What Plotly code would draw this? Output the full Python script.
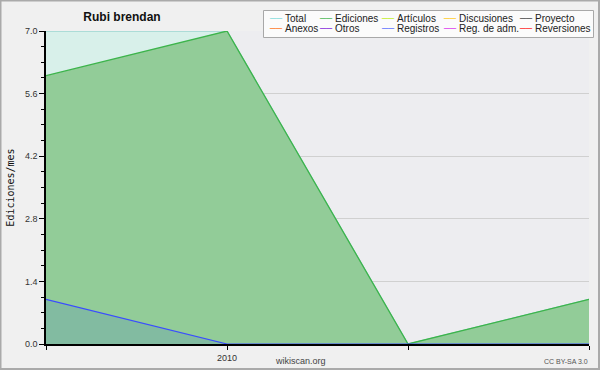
import plotly.graph_objects as go

# ---- data ----
months = ["2009-12", "2010-01", "2010-02", "2010-03"]
tick_labels = ["", "2010", "", ""]
total = [7, 7, 0, 1]
ediciones = [6, 7, 0, 1]
registros = [1, 0, 0, 0]
zeros = [0, 0, 0, 0]

legend_names = ["Total", "Ediciones", "Artículos", "Discusiones", "Proyecto",
                "Anexos", "Otros", "Registros", "Reg. de adm.", "Reversiones"]
legend_colors = ["#90e0e0", "#60c068", "#c8f040", "#ffd040", "#5a5a5a",
                 "#ff8840", "#9040e0", "#7080ff", "#e050f0", "#ff4040"]

# ---- geometry helpers (layout only) ----
W, H = 600, 370
L, R, T, B = 46, 11, 31, 26
PW, PH = W - L - R, H - T - B


def px2x(px):
    return (px - L) / PW


def px2y(py):
    return (H - B - py) / PH


FONT = "Liberation Sans"

fig = go.Figure()

# zero series (drawn first, hidden under axis)
for name in ["Artículos", "Discusiones", "Proyecto", "Anexos", "Otros", "Reg. de adm.", "Reversiones"]:
    fig.add_trace(go.Scatter(x=months, y=zeros, mode="lines", name=name,
                             line=dict(color=legend_colors[legend_names.index(name)], width=1),
                             showlegend=False, hoverinfo="skip"))

fig.add_trace(go.Scatter(x=months, y=total, mode="lines", name="Total", fill="tozeroy",
                         fillcolor="rgb(216,240,234)", line=dict(color="#80c8c4", width=1.2),
                         showlegend=False))
fig.add_trace(go.Scatter(x=months, y=ediciones, mode="lines", name="Ediciones", fill="tozeroy",
                         fillcolor="rgb(146,204,152)", line=dict(color="#3cb44b", width=1.3),
                         showlegend=False))
fig.add_trace(go.Scatter(x=months, y=registros, mode="lines", name="Registros", fill="tozeroy",
                         fillcolor="rgba(70,120,200,0.2)", line=dict(color="#3a4cff", width=1.2),
                         showlegend=False))

# ---- legend box made of annotations ----
col_px = [268, 318, 380, 442, 518]
row_px = [19, 29]
annotations = []
for i, (name, color) in enumerate(zip(legend_names, legend_colors)):
    r, c = divmod(i, 5)
    annotations.append(dict(
        x=px2x(col_px[c] - 1), y=px2y(row_px[r]), xref="paper", yref="paper",
        xanchor="left", yanchor="middle", showarrow=False,
        text="──", font=dict(family="DejaVu Sans", size=10, color=color)))
    annotations.append(dict(
        x=px2x(col_px[c] + 15), y=px2y(row_px[r]), xref="paper", yref="paper",
        xanchor="left", yanchor="middle", showarrow=False,
        text=name, font=dict(family=FONT, size=10, color="#222222")))

annotations.append(dict(x=px2x(300), y=px2y(361), xref="paper", yref="paper",
                        xanchor="center", yanchor="middle", showarrow=False,
                        text="wikiscan.org", font=dict(family=FONT, size=9, color="#444444")))
annotations.append(dict(x=px2x(590), y=px2y(361), xref="paper", yref="paper",
                        xanchor="right", yanchor="middle", showarrow=False,
                        text="CC BY-SA 3.0", font=dict(family=FONT, size=7, color="#555555")))

shapes = [
    dict(type="rect", xref="paper", yref="paper", layer="above",
         x0=px2x(263.5), x1=px2x(593.5), y0=px2y(10.5), y1=px2y(37.5),
         fillcolor="#fbfbfb", line=dict(color="#a8a8a8", width=1)),
    dict(type="rect", xref="paper", yref="paper", layer="below",
         x0=px2x(0.5), x1=px2x(599), y0=px2y(0.5), y1=px2y(369),
         fillcolor="rgba(0,0,0,0)", line=dict(color="#aaaaaa", width=2)),
]

fig.update_layout(
    width=W, height=H,
    margin=dict(l=L, r=R, t=T, b=B, autoexpand=False),
    paper_bgcolor="#f0f0f0", plot_bgcolor="#ededf0",
    font=dict(family=FONT, size=9, color="#333333"),
    title=dict(text="<b>Rubi brendan</b>", x=122 / W, xanchor="center",
               y=1 - 17 / H, yanchor="middle", font=dict(family=FONT, size=12, color="#111111")),
    showlegend=False,
    annotations=annotations,
    shapes=shapes,
    xaxis=dict(type="category", range=[0, 3], tickvals=months, ticktext=tick_labels,
               automargin=False,
               showgrid=False, showline=True, linecolor="black", linewidth=1.5,
               ticks="outside", ticklen=4, tickcolor="black", zeroline=False,
               tickfont=dict(family=FONT, size=9, color="#333333")),
    yaxis=dict(range=[0, 7], dtick=1.4, tick0=0, tickformat=".1f", automargin=False,
               showgrid=True, gridcolor="#d0d0d0", gridwidth=1,
               showline=True, linecolor="black", linewidth=1.5,
               ticks="outside", ticklen=5, tickcolor="black", zeroline=False,
               minor=dict(dtick=0.35, ticks="outside", ticklen=3, tickcolor="black", showgrid=False),
               tickfont=dict(family=FONT, size=9, color="#333333"),
               title=dict(text="Ediciones/mes", standoff=8,
                          font=dict(family="DejaVu Sans Mono", size=10, color="#111111"))),
)

fig.write_html("out.html")
